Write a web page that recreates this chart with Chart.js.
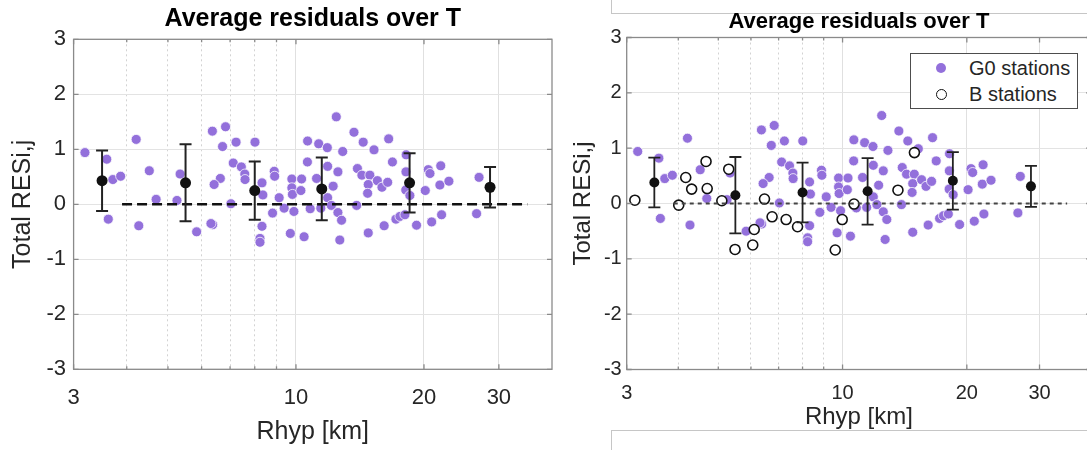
<!DOCTYPE html>
<html>
<head>
<meta charset="utf-8">
<script src="https://cdn.jsdelivr.net/npm/chart.js@4.4.1/dist/chart.umd.min.js"></script>
<style>
body { margin: 0; background: #fff; }
#page { position: relative; width: 1087px; height: 450px; overflow: hidden; font-family: 'Liberation Sans', Arial, sans-serif; }
#panelLeft { position: absolute; left: 0; top: 0; width: 560px; height: 450px; }
#panelRight { position: absolute; left: 560px; top: 0; width: 527px; height: 450px; overflow: hidden; }
.frame { position: absolute; border: 1px solid #c6c6c6; }
#frameTop { left: 611px; top: -2px; width: 490px; height: 14px; }
#frameBottom { left: 611px; top: 430px; width: 490px; height: 40px; }
#legendBox { position: absolute; left: 910px; top: 53px; width: 168px; height: 56px; box-sizing: border-box;
  border: 1.5px solid #4d4d4d; background: #fff; color: #262626; font-size: 20px; }
#legendBox .mk { position: absolute; border-radius: 50%; box-sizing: border-box; }
#legendBox .txt { position: absolute; left: 58px; line-height: 24px; white-space: nowrap; }
</style>
</head>
<body>
<div id="page">
  <div class="frame" id="frameTop"></div>
  <div class="frame" id="frameBottom"></div>
  <div id="panelLeft"><canvas id="chartAll" width="560" height="450"></canvas></div>
  <div id="panelRight"><canvas id="chartB" width="545" height="450"></canvas></div>
  <div id="legendBox">
    <span class="mk" style="left:25px; top:9px; width:10px; height:10px; background:#9370db;"></span>
    <span class="txt" style="top:2px;">G0 stations</span>
    <span class="mk" style="left:25px; top:35px; width:11px; height:11px; border:1.6px solid #111; background:#fff;"></span>
    <span class="txt" style="top:28px;">B stations</span>
  </div>
</div>

<script>
// ---- data ----
const g0X = [3.19, 3.59, 3.71, 3.87, 3.62, 4.21, 4.52, 4.69, 4.27, 5.34,
  5.25, 5.84, 6.36, 6.83, 6.72, 7.23, 8.01, 6.64, 6.42, 7.03,
  6.37, 6.31, 7.12, 7.44, 7.58, 7.59, 8.32, 8.89, 8.91, 8.36,
  9.13, 8.81, 9.38, 8.32, 8.23, 8.23, 9.78, 9.78, 9.81, 10.31,
  10.27, 9.89, 9.70, 10.45, 10.65, 10.64, 10.80, 11.31, 11.18, 11.44,
  11.85, 11.87, 11.87, 12.44, 12.88, 12.55, 12.23, 12.11, 12.55, 12.80,
  12.68, 13.69, 14.39, 15.26, 16.52, 16.86, 13.95, 14.29, 14.92, 14.79,
  14.74, 15.54, 15.93, 16.43, 13.89, 14.79, 16.12, 17.18, 17.56, 18.04,
  18.16, 18.14, 18.12, 18.53, 20.47, 20.66, 20.14, 21.90, 21.80, 22.89,
  19.21, 20.85, 22.00, 26.95, 26.59];
const g0Y = [0.94, 0.82, 0.45, 0.51, -0.27, 1.18, 0.61, 0.09, -0.39, 0.55,
  0.07, -0.50, 1.33, 1.41, 1.05, 1.13, 1.13, 0.47, 0.36, 0.01,
  -0.37, -0.35, 0.75, 0.68, 0.55, 0.45, 0.39, 0.60, 0.51, 0.17,
  0.12, -0.16, -0.07, -0.40, -0.62, -0.69, 0.46, 0.30, 0.18, 0.46,
  0.25, -0.13, -0.53, -0.59, 1.15, 0.77, -0.08, 1.10, 0.47, -0.07,
  1.03, 0.69, 0.12, 1.59, 0.96, 0.59, 0.33, -0.02, -0.15, -0.29,
  -0.65, 1.31, 1.13, 0.99, 1.19, 0.77, 0.65, 0.53, 0.53, 0.36,
  0.20, 0.43, 0.31, 0.40, -0.02, -0.52, -0.39, -0.27, -0.22, -0.19,
  0.90, 0.59, 0.26, 0.16, 0.63, 0.56, 0.25, 0.70, 0.35, 0.42,
  -0.38, -0.32, -0.19, 0.49, -0.17];

const bX = [3.14, 4.17, 4.31, 4.67, 4.70, 4.01, 5.10, 5.30, 5.49, 6.06,
  6.11, 6.47, 6.75, 7.30, 7.78, 9.60, 9.98, 10.66, 13.62, 14.93];
const bY = [0.06, 0.47, 0.26, 0.76, 0.27, -0.03, 0.05, 0.62, -0.83, -0.75,
  -0.47, 0.08, -0.24, -0.29, -0.42, -0.84, -0.29, -0.01, 0.24, 0.92];

// distance bins (centre), mean and standard deviation
const binX = [3.5, 5.5, 8.0, 11.5, 18.5, 28.6];
const meanG0 = [0.43, 0.39, 0.25, 0.28, 0.39, 0.31];
const sdG0 = [0.55, 0.70, 0.53, 0.57, 0.54, 0.37];
const meanAll = [0.38, 0.15, 0.20, 0.22, 0.41, 0.31];
const sdAll = [0.45, 0.69, 0.54, 0.60, 0.52, 0.37];

const zeroX = [3.9, 35];

const xTickLabels = [3, 10, 20, 30];
const xMinorTicks = [4, 5, 6, 7, 8, 9];
const yTicks = [-3, -2, -1, 0, 1, 2, 3];

// ---- drawing ----
const FONT = "'Liberation Sans', Arial, sans-serif";
const xGridValues = xTickLabels.concat(xMinorTicks).sort((a, b) => a - b);

// MATLAB style box with inward ticks
const axesBox = {
  id: 'axesBox',
  afterDraw(chart) {
    const { ctx, chartArea: a, scales: { x, y } } = chart;
    ctx.save();
    ctx.strokeStyle = '#8a8a8a';
    ctx.lineWidth = 1.3;
    ctx.beginPath();
    x.ticks.forEach(t => {
      const px = x.getPixelForValue(t.value);
      const len = xMinorTicks.includes(t.value) ? 3 : 5;
      ctx.moveTo(px, a.top); ctx.lineTo(px, a.top + len);
      ctx.moveTo(px, a.bottom); ctx.lineTo(px, a.bottom - len);
    });
    y.ticks.forEach(t => {
      const py = y.getPixelForValue(t.value);
      ctx.moveTo(a.left, py); ctx.lineTo(a.left + 5, py);
      ctx.moveTo(a.right, py); ctx.lineTo(a.right - 5, py);
    });
    ctx.stroke();
    ctx.strokeRect(a.left, a.top, a.right - a.left, a.bottom - a.top);
    ctx.restore();
  }
};

function residualChart(id, p) {
  const datasets = [
    {
      type: 'scatter',
      data: binX.map((x, i) => ({ x, y: p.mean[i] })),
      pointRadius: p.meanR,
      backgroundColor: '#111',
      borderColor: '#111',
      borderWidth: 0
    },
    {
      type: 'line',
      data: binX.flatMap((x, i) => [
        { x, y: p.mean[i] - p.sd[i] },
        { x, y: p.mean[i] + p.sd[i] },
        { x, y: null }
      ]),
      borderColor: '#222',
      borderWidth: p.errW,
      pointStyle: 'line',
      pointRadius: p.capR,
      pointBorderWidth: p.errW,
      pointBorderColor: '#222',
      spanGaps: false,
      fill: false
    },
    {
      type: 'line',
      data: zeroX.map(x => ({ x, y: 0 })),
      borderColor: p.zeroColor,
      borderWidth: p.zeroW,
      borderDash: p.zeroDash,
      pointRadius: 0,
      fill: false
    }
  ];
  if (p.withB) {
    datasets.push({
      type: 'scatter',
      label: 'B stations',
      data: bX.map((x, i) => ({ x, y: bY[i] })),
      pointRadius: 5,
      backgroundColor: '#fff',
      borderColor: '#111',
      borderWidth: 1.6
    });
  }
  datasets.push({
    type: 'scatter',
    label: 'G0 stations',
    data: g0X.map((x, i) => ({ x, y: g0Y[i] })),
    pointRadius: 5,
    backgroundColor: '#9370db',
    borderColor: 'rgba(255,255,255,0.75)',
    borderWidth: 1
  });

  return new Chart(document.getElementById(id), {
    type: 'scatter',
    data: { datasets },
    plugins: [axesBox],
    options: {
      responsive: false,
      animation: false,
      devicePixelRatio: 1,
      layout: { padding: { left: 0, right: p.padRight, top: 0, bottom: 0 } },
      plugins: {
        legend: { display: false },
        tooltip: { enabled: false },
        title: {
          display: true,
          text: 'Average residuals over T',
          fullSize: false,
          color: '#000',
          font: { family: FONT, size: p.titleSize, weight: 'bold' },
          padding: { top: p.titleTop, bottom: p.titleBottom }
        }
      },
      scales: {
        x: {
          type: 'logarithmic',
          min: 3,
          max: 40,
          afterBuildTicks: s => { s.ticks = xGridValues.map(v => ({ value: v })); },
          afterFit: s => { s.height = p.xAxisH; },
          ticks: {
            autoSkip: false, maxRotation: 0, minRotation: 0,
            padding: p.xTickPad,
            color: '#262626',
            font: { family: FONT, size: p.tickSize },
            callback: v => xTickLabels.includes(v) ? String(v) : ''
          },
          grid: {
            drawTicks: false,
            color: c => (c.tick && xMinorTicks.includes(c.tick.value)) ? '#d2d2d2' : '#e0e0e0'
          },
          border: {
            display: false,
            dash: c => (c.tick && xMinorTicks.includes(c.tick.value)) ? [2, 3] : []
          },
          title: {
            display: true, text: 'Rhyp [km]', color: '#262626',
            font: { family: FONT, size: p.labelSize },
            padding: { top: 0, bottom: p.xTitleBottom }
          }
        },
        y: {
          min: -3,
          max: 3,
          afterBuildTicks: s => { s.ticks = yTicks.map(v => ({ value: v })); },
          afterFit: s => { s.width = p.yAxisW; },
          ticks: {
            padding: p.yTickPad,
            color: '#262626',
            font: { family: FONT, size: p.tickSize }
          },
          grid: { drawTicks: false, color: '#e3e3e3' },
          border: { display: false },
          title: {
            display: true, text: 'Total RESi,j', color: '#262626',
            font: { family: FONT, size: p.labelSize },
            padding: { top: p.yTitleTop, bottom: 0 }
          }
        }
      }
    }
  });
}

residualChart('chartAll', {
  mean: meanG0, sd: sdG0, withB: false,
  meanR: 5.5, capR: 6, errW: 2,
  zeroColor: '#111', zeroW: 2.5, zeroDash: [10, 5],
  padRight: 7.8, yAxisW: 73.6, xAxisH: 80.7,
  titleSize: 25, titleTop: 4, titleBottom: 5.3,
  tickSize: 22, xTickPad: 15, yTickPad: 7.6,
  labelSize: 25, xTitleBottom: 3, yTitleTop: 8
});

residualChart('chartB', {
  mean: meanAll, sd: sdAll, withB: true,
  meanR: 5, capR: 6, errW: 1.8,
  zeroColor: '#444', zeroW: 2, zeroDash: [4, 4],
  padRight: 13.9, yAxisW: 66.7, xAxisH: 80.5,
  titleSize: 22, titleTop: 9, titleBottom: 2.1,
  tickSize: 20, xTickPad: 12, yTickPad: 5,
  labelSize: 24, xTitleBottom: 17.8, yTitleTop: 9
});
</script>
</body>
</html>
